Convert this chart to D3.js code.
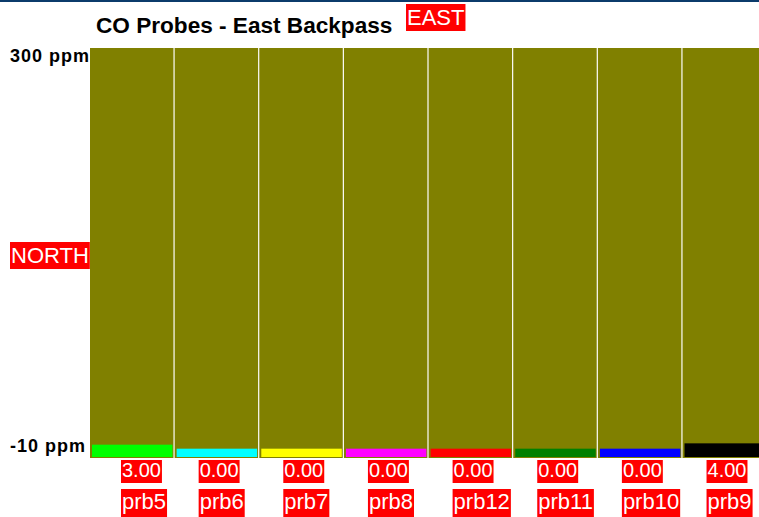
<!DOCTYPE html>
<html>
<head>
<meta charset="utf-8">
<script src="https://cdn.jsdelivr.net/npm/d3@7"></script>
<style>
  body { margin: 0; background: #fff; }
  svg { display: block; font-family: "Liberation Sans", Arial, sans-serif; }
</style>
</head>
<body>
<div id="chart"></div>
<script>
// data
const probes = ["prb5", "prb6", "prb7", "prb8", "prb12", "prb11", "prb10", "prb9"];
const values = [3.00, 0.00, 0.00, 0.00, 0.00, 0.00, 0.00, 4.00];
const barColors = ["#00ff00", "#00ffff", "#ffff00", "#ff00ff", "#ff0000", "#008000", "#0000ff", "#000000"];
const yTickLabels = ["300 ppm", "-10 ppm"];
const yDomain = [-10, 300];

let width = 759;
let height = 517;

// plot box
let plotLeft = 90;
let plotRight = 766;   // runs a bit past the window edge, like the original
let plotTop = 48;
let plotBottom = 458;

let svg = d3.select("#chart")
    .append("svg")
    .attr("width", width)
    .attr("height", height);

// navy line across the top
svg.append("rect")
    .attr("x", 0).attr("y", 0)
    .attr("width", width).attr("height", 2)
    .attr("fill", "#0b3b6b");

let xScale = d3.scaleBand()
    .domain(probes)
    .range([plotLeft, plotRight])
    .paddingInner(0.014);

let yScale = d3.scaleLinear()
    .domain(yDomain)
    .range([462, 49]);

// olive column backgrounds
svg.selectAll(".col")
    .data(probes)
    .enter()
    .append("rect")
    .attr("class", "col")
    .attr("x", d => xScale(d))
    .attr("y", plotTop)
    .attr("width", xScale.bandwidth())
    .attr("height", plotBottom - plotTop)
    .attr("fill", "#808000");

// value bars
svg.selectAll(".bar")
    .data(probes)
    .enter()
    .append("rect")
    .attr("class", "bar")
    .attr("x", d => xScale(d) + 2)
    .attr("y", (d, i) => yScale(values[i]))
    .attr("width", xScale.bandwidth() - 3)
    .attr("height", (d, i) => plotBottom - 1 - yScale(values[i]))
    .attr("fill", (d, i) => barColors[i]);

// title
svg.append("text")
    .attr("x", 96)
    .attr("y", 33)
    .attr("font-size", 22.6)
    .attr("font-weight", "bold")
    .attr("fill", "#000")
    .text("CO Probes - East Backpass");

// red tag with white text, box sized to the text
function tag(x, y, boxH, fontSize, baseline, label) {
    let g = svg.append("g");
    let r = g.append("rect").attr("fill", "#ff0000");
    let t = g.append("text")
        .attr("x", x + 1)
        .attr("y", y + baseline)
        .attr("font-size", fontSize)
        .attr("fill", "#fff")
        .text(label);
    let w = t.node().getComputedTextLength();
    r.attr("x", x).attr("y", y).attr("width", w + 2).attr("height", boxH);
}

tag(406, 4, 27, 22, 21, "EAST");
tag(10, 242, 27, 22, 21, "NORTH");

// y labels
svg.append("text")
    .attr("x", 10).attr("y", 62)
    .attr("font-size", 18).attr("font-weight", "bold")
    .attr("letter-spacing", 1)
    .text(yTickLabels[0]);
svg.append("text")
    .attr("x", 10).attr("y", 452)
    .attr("font-size", 18).attr("font-weight", "bold")
    .attr("letter-spacing", 1)
    .text(yTickLabels[1]);

// value and name tags under each column
probes.forEach(function (p, i) {
    let x0 = xScale(p) + (i === 0 ? 31 : 24);
    tag(x0, 460, 23, 20, 17, values[i].toFixed(2));
    tag(x0, 489, 28, 22, 20, p);
});
</script>
</body>
</html>
